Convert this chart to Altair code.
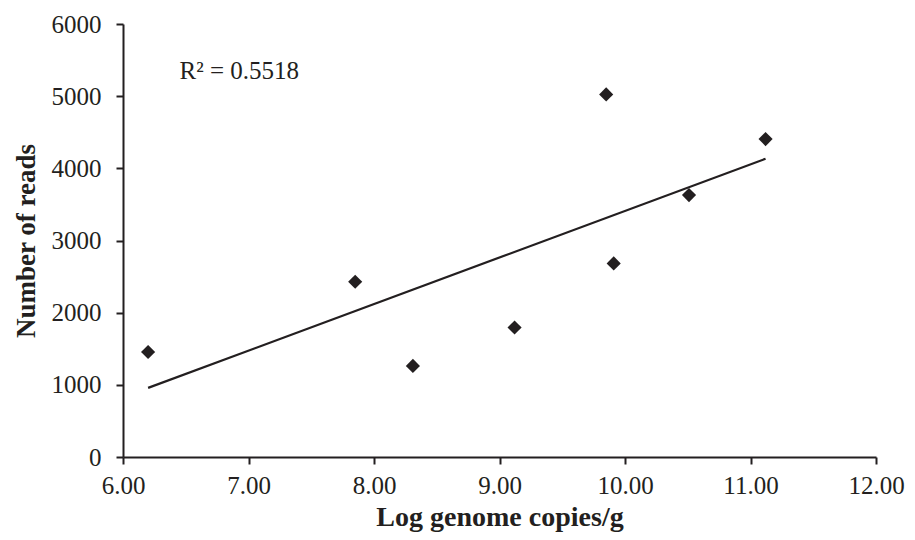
import altair as alt
import pandas as pd

log_copies = [6.20, 7.85, 8.31, 9.12, 9.85, 9.91, 10.51, 11.12]
reads = [1455, 2428, 1262, 1795, 5024, 2683, 3629, 4405]

df = pd.DataFrame({"x": log_copies, "y": reads})
ann = pd.DataFrame({"x": [6.45], "y": [5350], "t": ["R² = 0.5518"]})

FONT = "Liberation Serif"
INK = "#231f20"

xs = alt.Scale(domain=[6, 12], nice=False, zero=False)
ys = alt.Scale(domain=[0, 6000], nice=False)

xaxis = alt.Axis(values=[6, 7, 8, 9, 10, 11, 12], format=".2f", title="Log genome copies/g",
                 grid=False, domainColor=INK, domainWidth=2, tickColor=INK, tickWidth=2, tickSize=7,
                 labelFont=FONT, labelFontSize=25, labelColor=INK, labelPadding=9, labelFlush=False,
                 labelOverlap=False,
                 titleFont=FONT, titleFontSize=28, titleFontWeight="bold", titleColor=INK, titlePadding=5)
yaxis = alt.Axis(values=[0, 1000, 2000, 3000, 4000, 5000, 6000], format="d", title="Number of reads",
                 grid=False, domainColor=INK, domainWidth=2, tickColor=INK, tickWidth=2, tickSize=7,
                 labelFont=FONT, labelFontSize=25, labelColor=INK, labelPadding=15, labelFlush=False,
                 labelOverlap=False,
                 titleFont=FONT, titleFontSize=27, titleFontWeight="bold", titleColor=INK, titlePadding=11)

base = alt.Chart(df)
pts = base.mark_point(shape="diamond", filled=True, size=200, color=INK, opacity=1).encode(
    x=alt.X("x:Q", scale=xs, axis=xaxis),
    y=alt.Y("y:Q", scale=ys, axis=yaxis),
)
trend = base.transform_regression("x", "y", method="linear").mark_line(color=INK, strokeWidth=2.2).encode(
    x=alt.X("x:Q", scale=xs),
    y=alt.Y("y:Q", scale=ys),
)
txt = alt.Chart(ann).mark_text(align="left", baseline="middle", font=FONT, fontSize=25, color=INK).encode(
    x=alt.X("x:Q", scale=xs), y=alt.Y("y:Q", scale=ys), text="t:N"
)

chart = (trend + pts + txt).properties(
    width=753, height=433,
    autosize=alt.AutoSizeParams(type="none"),
    padding={"left": 115, "top": 16, "right": 30, "bottom": 75},
).configure(background="white").configure_view(stroke=None)

chart.save("out.html", embed_options={"renderer": "svg", "actions": False})
